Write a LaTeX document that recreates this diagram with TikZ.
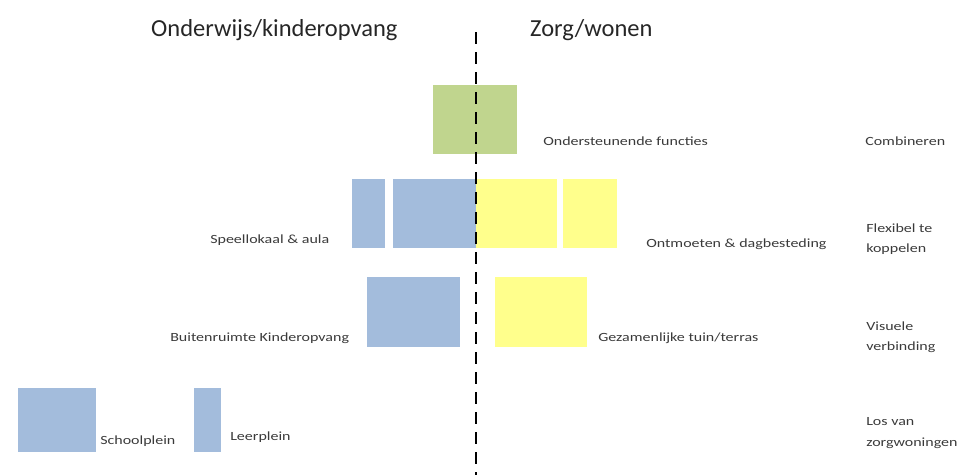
\documentclass[tikz,border=0pt]{standalone}
\usepackage{fontspec}
\setmainfont{Carlito}
\definecolor{boxblue}{HTML}{A3BCDC}
\definecolor{boxyellow}{HTML}{FFFF8C}
\definecolor{boxgreen}{HTML}{C0D58E}
\definecolor{txt}{HTML}{3A3A3A}
\begin{document}
\begin{tikzpicture}[x=1pt,y=-1pt,
  lbl/.style={anchor=west, inner sep=0pt, xscale=1.28, font=\fontsize{12.5}{14}\selectfont, text=txt},
  side/.style={anchor=west, inner sep=0pt, xscale=1.28, align=left, font=\fontsize{12.5}{20.5}\selectfont, text=txt},
  title/.style={anchor=west, inner sep=0pt, font=\fontsize{24.5}{28}\selectfont, text=black!85}]
\useasboundingbox (0,0) rectangle (957,475);
% boxes
\fill[boxgreen] (433,85) rectangle (517,154);
\fill[boxblue] (352,179) rectangle (385,248);
\fill[boxblue] (393,179) rectangle (476,248);
\fill[boxyellow] (476,179) rectangle (557,248);
\fill[boxyellow] (563,179) rectangle (617,248);
\fill[boxblue] (367,277) rectangle (460,347);
\fill[boxyellow] (495,277) rectangle (587,347);
\fill[boxblue] (18,388) rectangle (96,452);
\fill[boxblue] (194,388) rectangle (221,452);
% divider
\coordinate (dtop) at (476,32);
\coordinate (dbot) at (476,475);
\draw[line width=2.6pt, dash pattern=on 12pt off 8pt] (dtop) -- (dbot);
% titles
\node[title] (t1) at (151,30) {Onderwijs/kinderopvang};
\node[title] (t2) at (530,30) {Zorg/wonen};
% labels
\node[lbl] (l1) at (543,141) {Ondersteunende functies};
\node[lbl] (l2) at (210,240) {Speellokaal \& aula};
\node[lbl] (l3) at (646,244) {Ontmoeten \& dagbesteding};
\node[lbl] (l4) at (170,338) {Buitenruimte Kinderopvang};
\node[lbl] (l5) at (598,338) {Gezamenlijke tuin/terras};
\node[lbl] (l6) at (100,441) {Schoolplein};
\node[lbl] (l7) at (230,437) {Leerplein};
% side column
\node[lbl] (s1) at (865,141) {Combineren};
\node[side] (s2) at (866,239) {Flexibel te\\koppelen};
\node[side] (s3) at (866,337) {Visuele\\verbinding};
\node[side] (s4) at (866,433) {Los van\\zorgwoningen};
\end{tikzpicture}
\end{document}
